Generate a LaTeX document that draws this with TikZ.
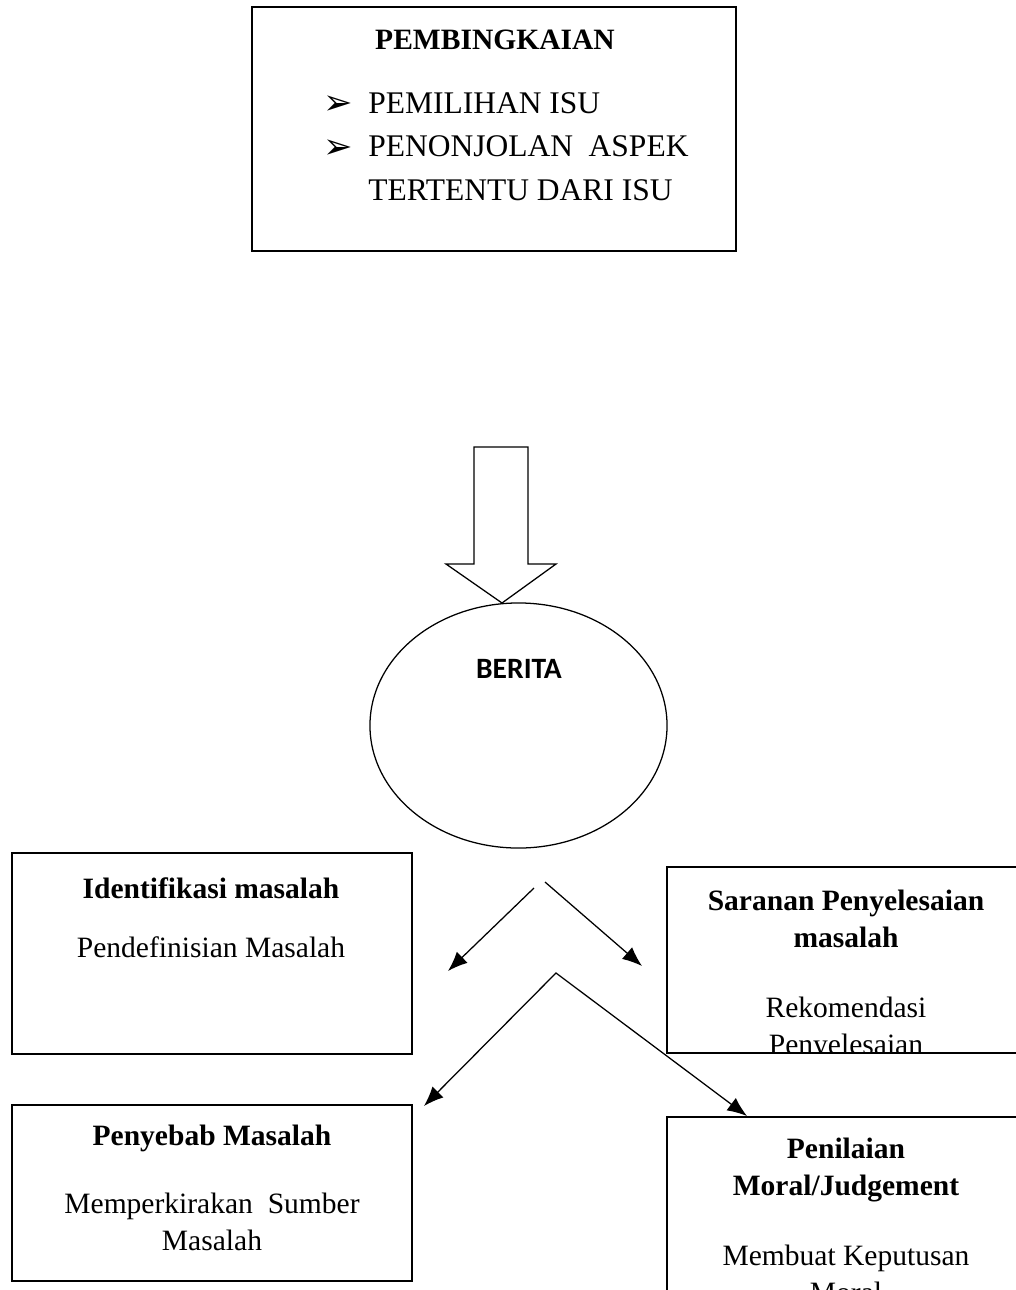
\documentclass[tikz,border=0pt]{standalone}
\usepackage{fontspec}
\setmainfont{Liberation Serif}
\newfontfamily\beritafont{Carlito}
\newfontfamily\tandafont{DejaVu Sans}
\usepackage{tikz}
\usetikzlibrary{arrows.meta,shapes.geometric,positioning}
\newcommand{\tanda}{\makebox[32pt][l]{\raisebox{-1pt}{\fontsize{25}{25}\tandafont ➢}}}

\begin{document}
\begin{tikzpicture}[x=0.025cm,y=-0.025cm,
    kotak/.style={draw, line width=1.2pt, rectangle, inner sep=0pt},
    teks/.style={align=center, inner sep=0pt, anchor=north, font=\fontsize{21}{26.3}\selectfont},
    panah/.style={-{Latex[length=14pt,width=11pt]}, line width=0.9pt}]
                \clip (0,0) rectangle (1016,1290);
                \coordinate (kiriA) at (534,888);
                \coordinate (kananA) at (545,882);
                \coordinate (kiriB) at (448,971);
                \coordinate (kananB) at (642,966);
                \coordinate (puncak) at (556,973);
                \coordinate (kiriC) at (424,1106);
                \coordinate (kananC) at (747,1116);
                %Boxes
                \node[kotak, minimum width=12.1cm, minimum height=6.1cm] (bingkai) at (494,129) {};
                \node[kotak, minimum width=10cm, minimum height=5.025cm] (identifikasi) at (212,953.5) {};
                \node[kotak, minimum width=10cm, minimum height=4.65cm] (saranan) at (867,960) {};
                \node[kotak, minimum width=10cm, minimum height=4.4cm] (penyebab) at (212,1193) {};
                \node[kotak, minimum width=10cm, minimum height=6cm] (penilaian) at (867,1237) {};
                %Frame text
                \node[teks, font=\fontsize{21}{26}\selectfont\bfseries] (judul) at (495,30) {PEMBINGKAIAN};
                \node[inner sep=0pt, anchor=north west, align=left, font=\fontsize{22.4}{31}\selectfont] (daftar) at (323,92)
                    {\tanda PEMILIHAN ISU\\ \tanda PENONJOLAN\ \ ASPEK\\ \hspace*{32pt}TERTENTU DARI ISU};
                %Arrow and news
                \draw[line width=0.9pt, line join=miter] (474,447) -- (528,447) -- (528,564) -- (556,564)
                    -- (502,603) -- (446,564) -- (474,564) -- cycle;
                \node[draw, ellipse, line width=0.9pt, minimum width=7.425cm, minimum height=6.125cm] (berita) at (518.5,725.5) {};
                \node[inner sep=0pt, font=\fontsize{21}{21}\beritafont\bfseries] (judulberita) at (519,669) {BERITA};
                %Box text
                \node[teks] (teksidentifikasi) at (211,877) {\textbf{Identifikasi masalah}\\[16pt]Pendefinisian Masalah};
                \begin{scope}
                    \clip (667,867) rectangle (1016,1052);
                    \node[teks] (tekssaranan) at (846,890) {\textbf{Saranan Penyelesaian}\\ \textbf{masalah}\\[23pt]Rekomendasi\\Penyelesaian};
                \end{scope}
                \node[teks] (tekspenyebab) at (212,1125) {\textbf{Penyebab Masalah}\\[22pt]Memperkirakan\ \ Sumber\\Masalah};
                \node[teks] (tekspenilaian) at (846,1138) {\textbf{Penilaian}\\ \textbf{Moral/Judgement}\\[23pt]Membuat Keputusan\\Moral};
                %Arrows
                \draw[panah] (kiriA) -- (kiriB);
                \draw[panah] (kananA) -- (kananB);
                \draw[panah, {Latex[length=14pt,width=11pt]}-{Latex[length=14pt,width=11pt]}] (kiriC) -- (puncak) -- (kananC);
            \end{tikzpicture}
\end{document}
